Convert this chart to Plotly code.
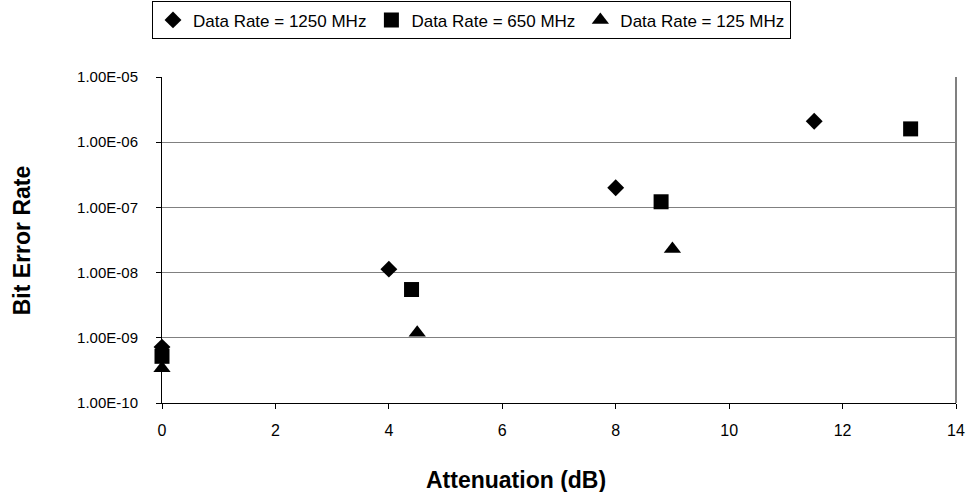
import plotly.graph_objects as go

series_names = ["Data Rate = 1250 MHz", "Data Rate = 650 MHz", "Data Rate = 125 MHz"]
att_1250 = [0, 4, 8, 11.5]
ber_1250 = [7.2e-10, 1.13e-8, 2.0e-7, 2.1e-6]
att_650 = [0, 4.4, 8.8, 13.2]
ber_650 = [5.2e-10, 5.5e-9, 1.22e-7, 1.6e-6]
att_125 = [0, 4.5, 9]
ber_125 = [3.4e-10, 1.2e-9, 2.3e-8]

y_tickvals = [1e-10, 1e-9, 1e-8, 1e-7, 1e-6, 1e-5]
y_ticktext = ["1.00E-10", "1.00E-09", "1.00E-08", "1.00E-07", "1.00E-06", "1.00E-05"]
x_tickvals = [0, 2, 4, 6, 8, 10, 12, 14]

FONT = "Liberation Sans, Arial, sans-serif"

fig = go.Figure()
fig.add_trace(go.Scatter(x=att_1250, y=ber_1250, mode="markers", name=series_names[0],
                         marker=dict(symbol="diamond", size=13, color="black"), cliponaxis=False))
fig.add_trace(go.Scatter(x=att_650, y=ber_650, mode="markers", name=series_names[1],
                         marker=dict(symbol="square", size=15, color="black"), cliponaxis=False))
fig.add_trace(go.Scatter(x=att_125, y=ber_125, mode="markers", name=series_names[2],
                         marker=dict(symbol="triangle-up", size=15, color="black"), cliponaxis=False))

fig.update_layout(
    width=971, height=492,
    margin=dict(l=162, r=15, t=77, b=89, autoexpand=False),
    paper_bgcolor="white", plot_bgcolor="white",
    font=dict(family=FONT, color="black", size=15),
    legend=dict(orientation="h", x=-0.0126, y=1.232, xanchor="left", yanchor="top",
                bordercolor="black", borderwidth=1, font=dict(size=17),
                itemwidth=30, tracegroupgap=0, bgcolor="white"),
    xaxis=dict(range=[0, 14], tickvals=x_tickvals, showgrid=False, zeroline=False,
               showline=True, linecolor="black", linewidth=1, ticks="outside",
               ticklen=5, tickcolor="black", tickfont=dict(size=16), ticklabelstandoff=8),
    yaxis=dict(type="log", range=[-10, -5], tickvals=y_tickvals, ticktext=y_ticktext,
               showgrid=True, gridcolor="#808080", gridwidth=1, zeroline=False,
               showline=True, linecolor="black", linewidth=1, ticks="outside",
               ticklen=5, tickcolor="black", tickfont=dict(size=15), ticklabelstandoff=15),
    shapes=[dict(type="line", xref="paper", yref="paper", x0=1, x1=1, y0=0, y1=1,
                 line=dict(color="#808080", width=2))],
    annotations=[
        dict(text="<b>Attenuation (dB)</b>", xref="paper", yref="paper",
             x=0.446, y=-0.235, xanchor="center", yanchor="middle",
             showarrow=False, font=dict(size=23)),
        dict(text="<b>Bit Error Rate</b>", xref="paper", yref="paper", textangle=-90,
             x=-0.176, y=0.5, xanchor="center", yanchor="middle",
             showarrow=False, font=dict(size=23)),
    ],
)

fig.write_html("out.html", config={"displayModeBar": False},
               post_script="document.body.style.margin='0';")
